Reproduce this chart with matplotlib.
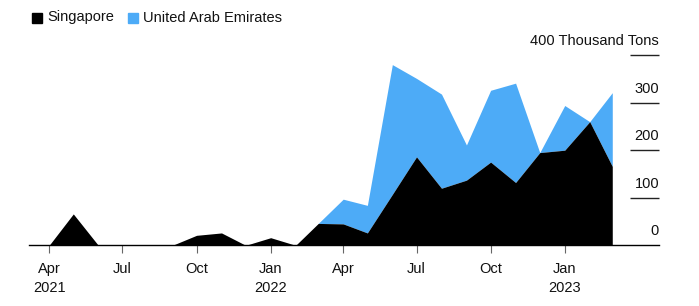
import matplotlib
matplotlib.use("Agg")
import matplotlib.pyplot as plt
import matplotlib.dates as mdates
import matplotlib.transforms as mtransforms
from matplotlib.patches import Rectangle
import pandas as pd

plt.rcParams['font.family'] = ['Liberation Sans', 'DejaVu Sans']

months = ["2021-04", "2021-05", "2021-06", "2021-07", "2021-08", "2021-09",
          "2021-10", "2021-11", "2021-12", "2022-01", "2022-02", "2022-03",
          "2022-04", "2022-05", "2022-06", "2022-07", "2022-08", "2022-09",
          "2022-10", "2022-11", "2022-12", "2023-01", "2023-02", "2023-03"]
singapore = [0, 66, 0, 0, 0, 0, 21, 26, 0, 16, 0, 46,
             45, 26, 107, 186, 120, 137, 175, 132, 195, 200, 260, 166]
uae = [0, 0, 0, 0, 0, 0, 0, 0, 0, 0, 0, 0,
       52, 58, 273, 165, 198, 74, 151, 209, 0, 94, 0, 155]

tick_dates = ["2021-04", "2021-07", "2021-10", "2022-01",
              "2022-04", "2022-07", "2022-10", "2023-01"]
tick_labels = ["Apr\n2021", "Jul", "Oct", "Jan\n2022", "Apr", "Jul", "Oct", "Jan\n2023"]
y_ticks = [100, 200, 300, 400]
y_labels = ["0", "100", "200", "300", "400 Thousand Tons"]

BLACK = "#000000"
BLUE = "#4dabf7"

x = pd.to_datetime(months)
total = [a + b for a, b in zip(singapore, uae)]

W, H = 699, 306
fig = plt.figure(figsize=(W / 100, H / 100), dpi=100)
left, right = 29, 659
bottom_px, top_px = 245.3, 55.1
ax = fig.add_axes([left / W, 1 - bottom_px / H, (right - left) / W, (bottom_px - top_px) / H])

ax.fill_between(x, singapore, total, color=BLUE, linewidth=0)
ax.fill_between(x, 0, singapore, color=BLACK, linewidth=0)

ax.set_xlim(pd.Timestamp("2021-03-07"), pd.Timestamp("2023-04-28"))
ax.set_ylim(0, 400)

for s in ["top", "left", "right"]:
    ax.spines[s].set_visible(False)
ax.spines["bottom"].set_color("black")
ax.spines["bottom"].set_linewidth(1.0)
ax.spines["bottom"].set_zorder(5)

ax.set_yticks([])
ax.set_xticks(pd.to_datetime(tick_dates))
ax.set_xticklabels(tick_labels, fontsize=10.5, color="#111111", linespacing=1.45)
ax.tick_params(axis="x", length=6, width=0.8, color="#666666", pad=6)

# short gridlines on right
trans = mtransforms.blended_transform_factory(fig.transFigure, ax.transData)
gx0, gx1 = 630 / W, 659 / W
for yv in y_ticks:
    ax.plot([gx0, gx1], [yv, yv], transform=trans, color="#222222", lw=1.0,
            clip_on=False, solid_capstyle="butt")
for yv, lab in zip([0] + y_ticks, y_labels):
    ax.annotate(lab, xy=(659 / W, yv), xycoords=trans, xytext=(0, 5),
                textcoords="offset points", ha="right", va="bottom",
                fontsize=10.5, color="#111111")

# legend
for (lx, tx, col, lab) in [(32, 47, BLACK, "Singapore"), (128, 143, BLUE, "United Arab Emirates")]:
    fig.patches.append(Rectangle((lx / W, 1 - 22.5 / H), 10 / W, 10 / H,
                                 transform=fig.transFigure, color=col))
    fig.text(tx / W, 1 - 17.5 / H, lab, fontsize=10.5, va="center", ha="left", color="#111111")

fig.savefig("out.png", dpi=100)
